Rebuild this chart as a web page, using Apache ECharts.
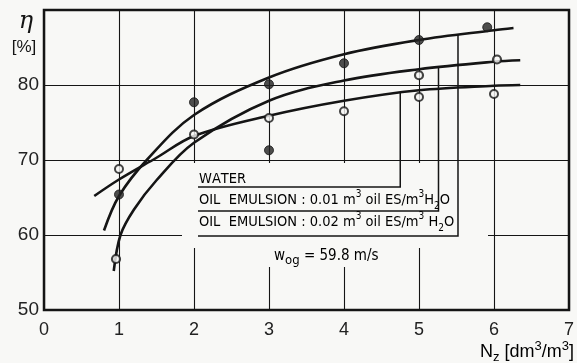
<!DOCTYPE html>
<html><head><meta charset="utf-8">
<script src="https://cdn.jsdelivr.net/npm/echarts@6/dist/echarts.min.js"></script>
<style>html,body{margin:0;padding:0;background:#f8f8f6}#c{width:577px;height:363px}</style>
</head><body><div id="c"></div>
<script>
// ---- data ----
const xTickLabels = ['0','1','2','3','4','5','6','7'];
const yTickLabels = ['50','60','70','80'];
const seriesNames = ['WATER', 'OIL  EMULSION : 0.01 m³ oil ES/m³H₂O', 'OIL  EMULSION : 0.02 m³ oil ES/m³ H₂O'];
// measured points
const waterPtsX = [1, 2, 3, 4, 5, 6];
const waterPtsY = [68.8, 73.4, 75.6, 76.5, 78.4, 78.8];
const oil01PtsX = [0.96, 5, 6.04];
const oil01PtsY = [56.8, 81.3, 83.4];
const oil02PtsX = [1, 2, 3, 3, 4, 5, 5.91];
const oil02PtsY = [65.4, 77.7, 80.1, 71.3, 82.9, 86.0, 87.7];
// fitted curves
const waterCurveX = [0.67, 1, 1.5, 2, 3, 4, 5, 6, 6.35];
const waterCurveY = [65.2, 67.4, 70.3, 73.2, 75.9, 77.9, 79.3, 79.9, 80.0];
const oil01CurveX = [0.93, 1.02, 1.2, 1.5, 2, 3, 4, 5, 6, 6.35];
const oil01CurveY = [55.2, 60, 63.4, 67.3, 72.3, 77.9, 80.6, 82.1, 83.1, 83.3];
const oil02CurveX = [0.8, 1, 1.37, 2, 3, 4, 5, 6, 6.26];
const oil02CurveY = [60.6, 65.2, 70, 76, 81, 84.1, 86, 87.3, 87.6];
const velocityText = '= 59.8 m/s';

// ---- layout / style ----
const BG = '#f8f8f6', INK = '#151515';
const leaderX = [4.75, 5.26, 5.52];
const zip = (xs, ys) => xs.map((x, i) => [x, ys[i]]);
const interp = (xs, ys, x) => {
  for (let i = 0; i < xs.length - 1; i++) {
    if (x >= xs[i] && x <= xs[i+1]) return ys[i] + (ys[i+1]-ys[i])*(x-xs[i])/(xs[i+1]-xs[i]);
  }
  return ys[ys.length-1];
};

const chart = echarts.init(document.getElementById('c'));
const curveStyle = {color: INK, width: 2.6};
const option = {
  backgroundColor: BG,
  animation: false,
  grid: {left: 44, right: 3, top: 10, bottom: 53, show: true, borderColor: INK, borderWidth: 2.5, backgroundColor: 'transparent'},
  xAxis: {
    type: 'value', min: 0, max: 7, interval: 1,
    axisLine: {show: false}, axisTick: {show: false},
    axisLabel: {fontSize: 18, color: '#222', margin: 11, fontFamily: 'Liberation Sans, Arial, sans-serif',
      formatter: v => xTickLabels[Math.round(v)] ?? ''},
    splitLine: {show: true, lineStyle: {color: INK, width: 1.1}}
  },
  yAxis: {
    type: 'value', min: 50, max: 90, interval: 10,
    axisLine: {show: false}, axisTick: {show: false},
    axisLabel: {fontSize: 19, color: '#222', margin: 5, fontFamily: 'Liberation Sans, Arial, sans-serif',
      formatter: v => yTickLabels.includes(String(v)) ? String(v) : ''},
    splitLine: {show: true, lineStyle: {color: INK, width: 1.1}}
  },
  series: [
    {name: seriesNames[0] + ' curve', type: 'line', data: zip(waterCurveX, waterCurveY), smooth: 0.35, showSymbol: false, lineStyle: curveStyle, z: 3},
    {name: seriesNames[1] + ' curve', type: 'line', data: zip(oil01CurveX, oil01CurveY), smooth: 0.35, showSymbol: false, lineStyle: curveStyle, z: 3},
    {name: seriesNames[2] + ' curve', type: 'line', data: zip(oil02CurveX, oil02CurveY), smooth: 0.35, showSymbol: false, lineStyle: curveStyle, z: 3},
    {name: seriesNames[0], type: 'scatter', data: zip(waterPtsX, waterPtsY), symbol: 'circle', symbolSize: 8,
      itemStyle: {color: BG, borderColor: INK, borderWidth: 2}, z: 5},
    {name: seriesNames[1], type: 'scatter', data: zip(oil01PtsX, oil01PtsY), symbol: 'circle', symbolSize: 8,
      itemStyle: {color: BG, borderColor: INK, borderWidth: 2.2}, z: 5},
    {name: seriesNames[2], type: 'scatter', data: zip(oil02PtsX, oil02PtsY), symbol: 'circle', symbolSize: 9,
      itemStyle: {color: '#222', borderColor: INK, borderWidth: 1}, z: 5}
  ]
};
chart.setOption(option);

// ---- annotations (legend box, labels) ----
const px = (x, y) => chart.convertToPixel({xAxisIndex: 0, yAxisIndex: 0}, [x, y]);
const curvesX = [waterCurveX, oil01CurveX, oil02CurveX];
const curvesY = [waterCurveY, oil01CurveY, oil02CurveY];
const legFont = "'Liberation Sans Narrow','DejaVu Sans Condensed',sans-serif";
const sansFont = 'Liberation Sans, Arial, sans-serif';
const richSet = (fam, size) => ({
  a: {fontSize: size, fontFamily: fam, color: INK, lineHeight: 22, verticalAlign: 'middle'},
  p: {fontSize: Math.round(size*0.72), fontFamily: fam, color: INK, lineHeight: 12, verticalAlign: 'top'},
  b: {fontSize: Math.round(size*0.72), fontFamily: fam, color: INK, lineHeight: 10, verticalAlign: 'bottom'}
});
// convert "m³" / "H₂" style text into rich tokens
const toRich = s => s.split('').map(ch => ch === '³' ? '{p|3}' : ch === '₂' ? '{b|2}' : '{a|' + ch + '}').join('');
const rowUnderY = [187, 211, 236];
const rowTextY = [179, 200, 222];
const leftX = 198;
const g = [];
g.push({type: 'rect', shape: {x: 182, y: 163, width: 306, height: 85}, style: {fill: BG}, z: 1});
g.push({type: 'rect', shape: {x: 262, y: 247, width: 110, height: 20}, style: {fill: BG}, z: 1});
for (let i = 0; i < 3; i++) {
  const endX = px(leaderX[i], 50)[0];
  const topY = px(leaderX[i], interp(curvesX[i], curvesY[i], leaderX[i]))[1];
  g.push({type: 'polyline', shape: {points: [[leftX, rowUnderY[i]], [endX, rowUnderY[i]], [endX, topY]]},
    style: {stroke: INK, lineWidth: 1.5, fill: null}, z: 4});
}
for (let i = 0; i < 3; i++) {
  g.push({type: 'text', x: 199, y: rowTextY[i], style: {text: toRich(seriesNames[i]), rich: richSet(legFont, 14.5), verticalAlign: 'middle'}, z: 4});
}
g.push({type: 'text', x: 274, y: 256, style: {
  text: '{a|w}{b|og}{a| ' + velocityText + '}',
  rich: {a: {fontSize: 15, fontFamily: legFont, color: INK, lineHeight: 22, verticalAlign: 'middle'},
         b: {fontSize: 13, fontFamily: legFont, color: INK, lineHeight: 11, verticalAlign: 'bottom'}},
  verticalAlign: 'middle'}, z: 4});
g.push({type: 'text', x: 26, y: 22, style: {text: 'η', font: 'italic 24px DejaVu Serif, serif', fill: INK, align: 'center', verticalAlign: 'middle'}, z: 4});
g.push({type: 'text', x: 24, y: 47, style: {text: '[%]', font: '17px ' + sansFont, fill: INK, align: 'center', verticalAlign: 'middle'}, z: 4});
g.push({type: 'text', x: 574, y: 352, style: {
  text: '{a|N}{b|z}{a| [dm}{p|3}{a|/m}{p|3}{a|]}',
  rich: {a: {fontSize: 18, fontFamily: sansFont, color: INK, lineHeight: 24, verticalAlign: 'middle'},
         p: {fontSize: 13, fontFamily: sansFont, color: INK, lineHeight: 13, verticalAlign: 'top'},
         b: {fontSize: 13, fontFamily: sansFont, color: INK, lineHeight: 11, verticalAlign: 'bottom'}},
  align: 'right', verticalAlign: 'middle'}, z: 4});
chart.setOption({graphic: {elements: g}});
</script></body></html>
